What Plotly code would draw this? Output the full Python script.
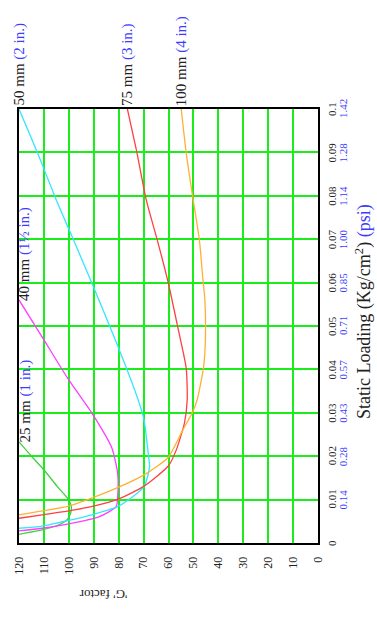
import plotly.graph_objects as go

# 'G' factor against static loading for each cushion thickness.
# Loading values in kg/cm², G factor dimensionless.
load_25 = [0.0020, 0.0030, 0.0042, 0.0053, 0.0068, 0.0084, 0.0099, 0.0130, 0.0166, 0.0200, 0.0233]
g_25 = [120, 110.7, 104.0, 100.8, 99.3, 99.0, 100.0, 104.6, 109.6, 115.0, 120]

load_40 = [0.0028, 0.0034, 0.0044, 0.0060, 0.0084, 0.0107, 0.0160, 0.0220, 0.0300, 0.0380, 0.0468, 0.0560]
g_40 = [120, 110.7, 100.0, 88.0, 81.0, 80.4, 80.4, 82.8, 90.8, 100.5, 110.0, 120]

load_50 = [0.0034, 0.0039, 0.0052, 0.0065, 0.0085, 0.0130, 0.0176, 0.0199, 0.0283, 0.0330,
           0.0460, 0.0590, 0.0698, 0.0790, 0.0898, 0.1000]
g_50 = [120, 110.7, 100.0, 90.8, 80.0, 69.8, 67.6, 68.0, 69.8, 72.2,
        80.8, 90.1, 98.1, 105.0, 112.5, 120]

load_75 = [0.0057, 0.0065, 0.0074, 0.0085, 0.0101, 0.0131, 0.0178, 0.0214, 0.0276, 0.0330,
           0.0403, 0.0498, 0.0602, 0.0698, 0.0790, 0.0906, 0.1000]
g_75 = [120, 110.7, 100.0, 90.1, 80.2, 69.8, 60.0, 56.9, 53.6, 52.5,
        52.9, 56.3, 60.2, 64.5, 68.9, 72.9, 76.5]

load_100 = [0.0065, 0.0074, 0.0085, 0.0105, 0.0128, 0.0157, 0.0197, 0.0260, 0.0302, 0.0330,
            0.0406, 0.0468, 0.0560, 0.0614, 0.0698, 0.0798, 0.0899, 0.1000]
g_100 = [120, 110.7, 100.0, 90.1, 80.2, 69.8, 60.2, 54.3, 50.3, 48.5,
         45.9, 45.2, 45.4, 46.3, 47.6, 50.3, 52.9, 54.9]

series_mm = ["25 mm", "40 mm", "50 mm", "75 mm", "100 mm"]
series_in = ["(1 in.)", "(1½ in.)", "(2 in.)", "(3 in.)", "(4 in.)"]
series_color = ["#3fcf3f", "#ff3dff", "#33e6ff", "#ff4040", "#ffb033"]

g_ticks = [120, 110, 100, 90, 80, 70, 60, 50, 40, 30, 20, 10, 0]
kg_ticks = [0, 0.01, 0.02, 0.03, 0.04, 0.05, 0.06, 0.07, 0.08, 0.09, 0.1]
kg_labels = ["0", "0.01", "0.02", "0.03", "0.04", "0.05", "0.06", "0.07", "0.08", "0.09", "0.1"]
psi_labels = ["", "0.14", "0.28", "0.43", "0.57", "0.71", "0.85", "1.00", "1.14", "1.28", "1.42"]

SERIF = "Liberation Serif"
BLUE = "#3b3bff"
GRID = "#1aee1a"

curves = [(load_25, g_25), (load_40, g_40), (load_50, g_50), (load_75, g_75), (load_100, g_100)]

fig = go.Figure()
for (ld, gf), col in zip(curves, series_color):
    fig.add_trace(go.Scatter(
        x=gf, y=ld, mode="lines",
        line=dict(color=col, width=1.3, shape="spline", smoothing=0.6),
        showlegend=False, hoverinfo="skip",
    ))

annotations = []

# Thickness labels at the end of each curve
for (ld, gf), mm, inch in zip(curves, series_mm, series_in):
    text = f"{mm} <span style='color:{BLUE}'>{inch}</span>"
    if ld[-1] >= 0.1:
        annotations.append(dict(
            x=gf[-1], y=ld[-1], xref="x", yref="y", text=text, textangle=-90,
            showarrow=False, xanchor="center", yanchor="bottom", yshift=1,
            font=dict(family=SERIF, size=15, color="#222"),
        ))
    else:
        annotations.append(dict(
            x=gf[-1], y=ld[-1], xref="x", yref="y", text=text, textangle=-90,
            showarrow=False, xanchor="center", yanchor="bottom", xshift=6, yshift=-3,
            font=dict(family=SERIF, size=15, color="#222"),
        ))

# Loading scale in kg/cm² and psi on the right-hand side
for v, kg, psi in zip(kg_ticks, kg_labels, psi_labels):
    annotations.append(dict(
        x=1, y=v, xref="paper", yref="y", text=kg, textangle=-90, showarrow=False,
        xanchor="center", yanchor="middle", xshift=14,
        font=dict(family=SERIF, size=11, color="#222"),
    ))
    if psi:
        annotations.append(dict(
            x=1, y=v, xref="paper", yref="y", text=psi, textangle=-90, showarrow=False,
            xanchor="center", yanchor="middle", xshift=25,
            font=dict(family=SERIF, size=11, color=BLUE),
        ))

annotations.append(dict(
    x=1, y=0.532, xref="paper", yref="paper",
    text=f"Static Loading (Kg/cm<sup>2</sup>) <span style='color:{BLUE}'>(psi)</span>",
    textangle=-90, showarrow=False, xanchor="center", yanchor="middle", xshift=46,
    font=dict(family=SERIF, size=18, color="#222"),
))

annotations.append(dict(
    x=0.283, y=-0.12, xref="paper", yref="paper", text="'G' factor",
    textangle=180, showarrow=False, xanchor="center", yanchor="middle",
    font=dict(family=SERIF, size=13, color="#222"),
))

fig.update_layout(
    width=377, height=617,
    margin=dict(l=17, r=59, t=109, b=74),
    paper_bgcolor="white", plot_bgcolor="white",
    annotations=annotations,
    xaxis=dict(
        range=[120, 0], tickvals=g_ticks, ticktext=[str(t) for t in g_ticks],
        tickangle=-90, ticks="", ticklabelstandoff=7,
        tickfont=dict(family=SERIF, size=12, color="#222"),
        showgrid=True, gridcolor=GRID, gridwidth=2, zeroline=False,
        showline=True, mirror=True, linecolor="black", linewidth=2,
    ),
    yaxis=dict(
        range=[0, 0.1], tickvals=kg_ticks, showticklabels=False, ticks="",
        showgrid=True, gridcolor=GRID, gridwidth=2, zeroline=False,
        showline=True, mirror=True, linecolor="black", linewidth=2,
    ),
)

fig.write_html("out.html")
